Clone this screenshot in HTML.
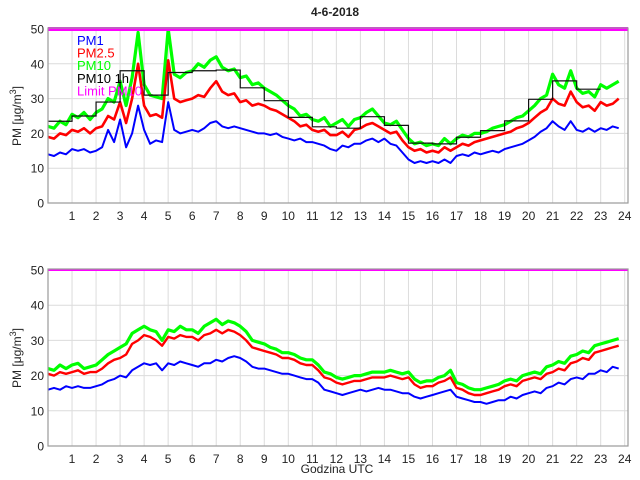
<!DOCTYPE html>
<html><head><meta charset="utf-8"><style>
body{margin:0;background:#fff;font-family:"Liberation Sans",sans-serif}
svg{display:block}
</style></head><body>
<svg id="chart" width="640" height="480" viewBox="0 0 640 480" font-family="Liberation Sans, sans-serif"></svg>
<script>
const hours = [0,1,2,3,4,5,6,7,8,9,10,11,12,13,14,15,16,17,18,19,20,21,22,23,24];
const yTicks = [0,10,20,30,40,50];
const limitPM10 = 50;
const step = 0.25;
const topPM1 = [14,13.5,14.5,14, 15.5,15,15.5,14.5, 15,16,21,17.5, 24,16,20,28, 21,17,18,17.5, 29,21,20,20.5, 21,20.5,21.5,23, 23.5,22,21.5,22, 21.5,21,20.5,20, 20,19.5,20,19, 18.5,18,18.5,17.5, 17.5,17,16.5,15.5, 15,16.5,16,17, 17,18,18.5,17.5, 18.5,17,16.5,14.5, 12.5,11.5,12,11.5, 12,11.5,12.5,11.5, 13.5,14,13.5,14.5, 14,14.5,15,14.5, 15.5,16,16.5,17, 18,19,20.5,21.5, 23.5,22,21,23.5, 21,20.5,21.5,20.5, 21.5,21,22,21.5];
const topPM25 = [19,18.5,20,19.5, 21,20.5,21.5,20, 21.5,22,25,24, 29,23,30,40, 28,25,25.5,24.5, 41,30,29,29.5, 30,31,30.5,33, 35,32,31,31.5, 29,29.5,28,28.5, 28,27,26.5,25.5, 24.5,23.5,22,22.5, 21,20.5,21,19.5, 19.5,20.5,19,21, 21.5,22.5,23,22, 21,20,20.5,18, 16,15,15.5,14.5, 15,14.5,16,15, 16,17,16.5,17.5, 18,18.5,19,19.5, 20,20.5,21.5,22, 23,24.5,26,27, 30,28.5,28,32, 29,27.5,28,26.5, 29,28,28.5,30];
const topPM10 = [22,21.5,23.5,22.5, 25.5,24.5,26,24, 26,27,30,29, 35,28,36,49, 34,31,30.5,30, 50,37,36,37.5, 38,40,39,41, 42,39,38,38.5, 36,36.5,34,34.5, 33,32,31,29.5, 28,27,25,25.5, 24,23.5,24.5,22, 23,24,22,24, 24.5,26,27,25, 23,22.5,23.5,21, 18.5,17,17.5,16.5, 17,16.5,18.5,17, 18.5,19.5,19,20, 20,20.5,21.5,22, 22.5,23.5,24.5,25, 26.5,28,30,31, 37,34,33,38, 33,31.5,32,30.5, 34,33,34,35];
const topPM10h = [23.5,25,29,38,31,37.5,38,38.2,33.1,29.4,24.6,21.9,21.5,24.8,22.3,17.2,17,18.9,20.8,23.6,29.8,35.1,32.7];
const botPM1 = [16,16.5,16,17, 16.5,17,16.5,16.5, 17,17.5,18.5,19, 20,19.5,21.5,22.5, 23.5,23,23.5,21.5, 23.5,23,24,23.5, 23,22.5,23.5,23.5, 24.5,24,25,25.5, 25,24,22.5,22, 22,21.5,21,20.5, 20.5,20,19.5,19, 19,18,16,15.5, 15,14.5,15,15.5, 16,15.5,16,16.5, 16,16,15.5,15, 15,14,13.5,14, 14.5,15,15.5,16, 14,13.5,13,12.5, 12.5,12,12.5,13, 13,14,13.5,14.5, 15,15.5,15,16.5, 17,18,17.5,19, 19.5,19,20.5,20.5, 21.5,21,22.5,22];
const botPM25 = [20.5,20,21,20.5, 21,21.5,20.5,21, 21,22,23.5,24.5, 25,26,29,30, 31.5,31,30,28.5, 31,30.5,31.5,31, 31,30,31.5,32, 33,32,33,32.5, 31.5,30,28,27.5, 27,26.5,26,25, 25,24.5,23.5,23, 23,21.5,19.5,19, 18,17.5,18,18.5, 18.5,19,19.5,19.5, 19.5,20,19.5,19, 19.5,17.5,16.5,17, 17,18,18.5,19.5, 16.5,16,15,14.5, 14.5,15,15.5,16, 17,17.5,17,18.5, 19,19.5,19,20.5, 21,22,21.5,23.5, 24,25,24.5,26.5, 27,27.5,28,28.5];
const botPM10 = [22,21.5,23,22, 23,23.5,22,22.5, 23,24.5,26,27, 28,29,32,33, 34,33,32.5,30, 33,32.5,34,33, 33,32,34,35, 36,34.5,35.5,35, 34,32.5,30,29.5, 29,28,27.5,26.5, 26.5,26,25,24.5, 24.5,23,21,20.5, 19.5,19,19.5,20, 20,20.5,21,21, 21,21.5,21,20.5, 21,19,18,18.5, 18.5,19.5,20,21.5, 18,17.5,16.5,16, 16,16.5,17,17.5, 18.5,19,18.5,20, 20.5,21,20.5,22.5, 23,24,23.5,25.5, 26,27,26.5,28.5, 29,29.5,30,30.5];

const NS='http://www.w3.org/2000/svg';
const svg=document.getElementById('chart');
function mk(tag,attrs,parent){const e=document.createElementNS(NS,tag);for(const k in attrs)e.setAttribute(k,attrs[k]);(parent||svg).appendChild(e);return e;}

function panel(id,y0px,y50px,series,stairs,limitW){
  const L=48,R=628,xs=24.03;
  const X=h=>L+h*xs;
  const Y=v=>y0px+(y50px-y0px)*v/50;
  const g=mk('g',{});
  
  
  mk('rect',{x:L,y:y50px-1,width:R-L,height:y0px-y50px+1,fill:'#fff'},g);
  hours.slice(1).forEach(h=>{
    const l=mk('line',{x1:X(h),x2:X(h),y1:y50px,y2:y0px,stroke:'#dcdcdc','stroke-width':1},g);
    
    
    const t=mk('text',{x:X(h),y:y0px+17,'font-size':12,'text-anchor':'middle',fill:'#222'},g);
    t.textContent=h;
    
    
  });
  yTicks.forEach(v=>{
    const l=mk('line',{x1:L,x2:R,y1:Y(v),y2:Y(v),stroke:'#dcdcdc','stroke-width':1},g);
    
    
    const t=mk('text',{x:L-4,y:Y(v)+4.5,'font-size':12,'text-anchor':'end',fill:'#222'},g);
    t.textContent=v;
    
    
  });
  const ylab=mk('text',{x:0,y:0,'font-size':12,'text-anchor':'middle',fill:'#222',transform:`translate(21,${(y0px+y50px)/2}) rotate(-90)`},g);
  ylab.innerHTML='PM [μg/m<tspan dy="-5" font-size="9">3</tspan><tspan dy="5">]</tspan>';
  
  
  series.forEach(s=>{
    const d=s.data.map((v,i)=>(i?'L':'M')+X(i*step).toFixed(1)+','+Y(v).toFixed(1)).join('');
    const p=mk('path',{d:d,fill:'none',stroke:s.color,'stroke-width':s.w,'stroke-linejoin':'round'},g);
    
    
  });
  if(stairs){
    let d='';
    stairs.forEach((v,i)=>{d+=(i?'L':'M')+X(i)+','+Y(v)+'L'+X(i+1)+','+Y(v);});
    const p=mk('path',{d:d,fill:'none',stroke:'#111','stroke-width':1.2},g);
    
    
  }
  const lim=mk('line',{x1:L,x2:R,y1:Y(limitPM10),y2:Y(limitPM10),stroke:'#ff00ff','stroke-width':limitW},g);
  
  
  const box=mk('rect',{x:L,y:y50px-1,width:R-L,height:y0px-y50px+1,fill:'none',stroke:'#9a9a9a','stroke-width':1.2},g);
  
  
}

const title=mk('text',{x:335,y:16,'font-size':12,'font-weight':'bold','text-anchor':'middle',fill:'#222'});
title.textContent='4-6-2018';



panel('top-panel',203,29,[
  {name:'pm10-line-top',color:'#00ff00',data:topPM10,w:3.2},
  {name:'pm25-line-top',color:'#ff0000',data:topPM25,w:2.6},
  {name:'pm1-line-top',color:'#0000ff',data:topPM1,w:2}
],topPM10h,4);

panel('bottom-panel',446,270,[
  {name:'pm10-line-bottom',color:'#00ff00',data:botPM10,w:3.2},
  {name:'pm25-line-bottom',color:'#ff0000',data:botPM25,w:2.4},
  {name:'pm1-line-bottom',color:'#0000ff',data:botPM1,w:2}
],null,2);

const leg=[['PM1','#0000ff'],['PM2.5','#ff0000'],['PM10','#00ff00'],['PM10 1h','#000000'],['Limit PM10','#ff00ff']];
leg.forEach((e,i)=>{
  const t=mk('text',{x:77,y:45+i*12.6,'font-size':13,fill:e[1]});
  t.textContent=e[0];
  
  
});

const xt=mk('text',{x:337,y:473,'font-size':12,'text-anchor':'middle',fill:'#222'});
xt.textContent='Godzina UTC';


</script>
</body></html>
